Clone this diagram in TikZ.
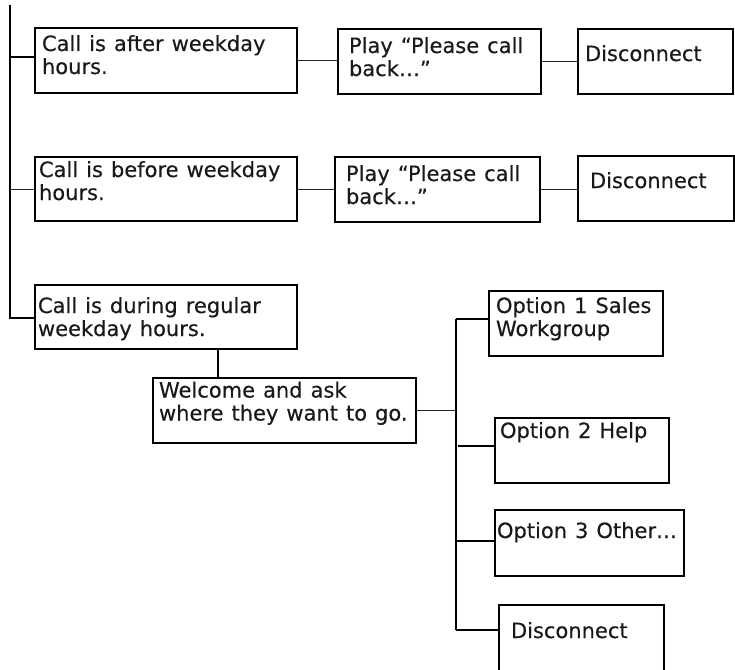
\documentclass[tikz,border=0pt]{standalone}
\usepackage{fontspec}
\setmainfont{DejaVu Sans}[WordSpace=1.2, FakeBold=0.3]
\usetikzlibrary{calc}
% left-aligned block of lines whose baseline is the first line
\newcommand{\txtlines}[1]{\begin{tabular}[t]{@{}l@{}}#1\end{tabular}}

\begin{document}
\begin{tikzpicture}[x=1pt,y=-1pt,
  flowbox/.style={draw=black, line width=2pt, inner sep=0pt, outer sep=0pt, anchor=north west},
  boxtext/.style={anchor=base west, inner sep=0pt, outer sep=0pt, text=black!90, font=\fontsize{21}{23}\selectfont},
  trunk/.style={line width=2pt},
  link/.style={line width=1pt, draw=black!85}]

\useasboundingbox (0,0) rectangle (735,669);

% boxes
\node[flowbox, minimum width=262, minimum height=65] (after)   at (35,28)   {};
\node[flowbox, minimum width=203, minimum height=65] (play1)   at (338,29)  {};
\node[flowbox, minimum width=155, minimum height=65] (disc1)   at (578,29)  {};
\node[flowbox, minimum width=262, minimum height=64] (before)  at (35,157)  {};
\node[flowbox, minimum width=205, minimum height=65] (play2)   at (335,157) {};
\node[flowbox, minimum width=156, minimum height=65] (disc2)   at (578,156) {};
\node[flowbox, minimum width=262, minimum height=64] (during)  at (35,285)  {};
\node[flowbox, minimum width=263, minimum height=65] (welcome) at (153,378) {};
\node[flowbox, minimum width=174, minimum height=65] (opt1)    at (489,291) {};
\node[flowbox, minimum width=174, minimum height=65] (opt2)    at (495,418) {};
\node[flowbox, minimum width=189, minimum height=66] (opt3)    at (495,510) {};
\node[flowbox, minimum width=165, minimum height=75] (disc3)   at (499,605) {};

% texts
\node[boxtext] (tafter)   at ($(after.north west)+(7,23)$)   {\txtlines{Call is after weekday\\hours.}};
\node[boxtext] (tplay1)   at ($(play1.north west)+(11,24)$)  {\txtlines{Play “Please call\\back…”}};
\node[boxtext] (tdisc1)   at ($(disc1.north west)+(7,32)$)   {Disconnect};
\node[boxtext] (tbefore)  at ($(before.north west)+(4,20)$)  {\txtlines{Call is before weekday\\hours.}};
\node[boxtext] (tplay2)   at ($(play2.north west)+(11,24)$)  {\txtlines{Play “Please call\\back…”}};
\node[boxtext] (tdisc2)   at ($(disc2.north west)+(12,32)$)  {Disconnect};
\node[boxtext] (tduring)  at ($(during.north west)+(3,28)$)  {\txtlines{Call is during regular\\weekday hours.}};
\node[boxtext] (twelcome) at ($(welcome.north west)+(6,19.5)$) {\txtlines{Welcome and ask\\where they want to go.}};
\node[boxtext] (topt1)    at ($(opt1.north west)+(7,22)$)    {\txtlines{Option 1 Sales\\Workgroup}};
\node[boxtext] (topt2)    at ($(opt2.north west)+(5,20)$)    {Option 2 Help};
\node[boxtext] (topt3)    at ($(opt3.north west)+(2,28)$)    {Option 3 Other…};
\node[boxtext] (tdisc3)   at ($(disc3.north west)+(12,33)$)  {Disconnect};

% left trunk
\coordinate (lt) at (10,5);
\coordinate (lb) at (10,318);
\coordinate (j1) at (10,57);
\coordinate (j2) at (10,189);
\draw[trunk] (lt) -- (lb) -- (lb -| during.west);
\draw[trunk] (j1) -- (j1 -| after.west);
\draw[link]  (j2) -- (j2 -| before.west);

% horizontal links
\draw[link] (after.east)  -- (after.east -| play1.west);
\draw[link] (play1.east)  -- (play1.east -| disc1.west);
\draw[link] (before.east) -- (before.east -| play2.west);
\draw[link] (play2.east)  -- (play2.east -| disc2.west);

% down to the welcome box
\draw[trunk] ($(during.south west)+(183,0)$) -- ($(welcome.north west)+(65,0)$);

% right trunk with the options
\coordinate (rt) at (456,319);
\coordinate (rb) at (456,630);
\coordinate (k2) at (458,446);
\coordinate (k3) at (456,541);
\draw[link]  (welcome.east) -- (welcome.east -| rt);
\draw[trunk] (rt) -- (rb);
\draw[trunk] (rt) -- (rt -| opt1.west);
\draw[trunk] (k2) -- (k2 -| opt2.west);
\draw[trunk] (k3) -- (k3 -| opt3.west);
\draw[trunk] (rb) -- (rb -| disc3.west);
\end{tikzpicture}
\end{document}
